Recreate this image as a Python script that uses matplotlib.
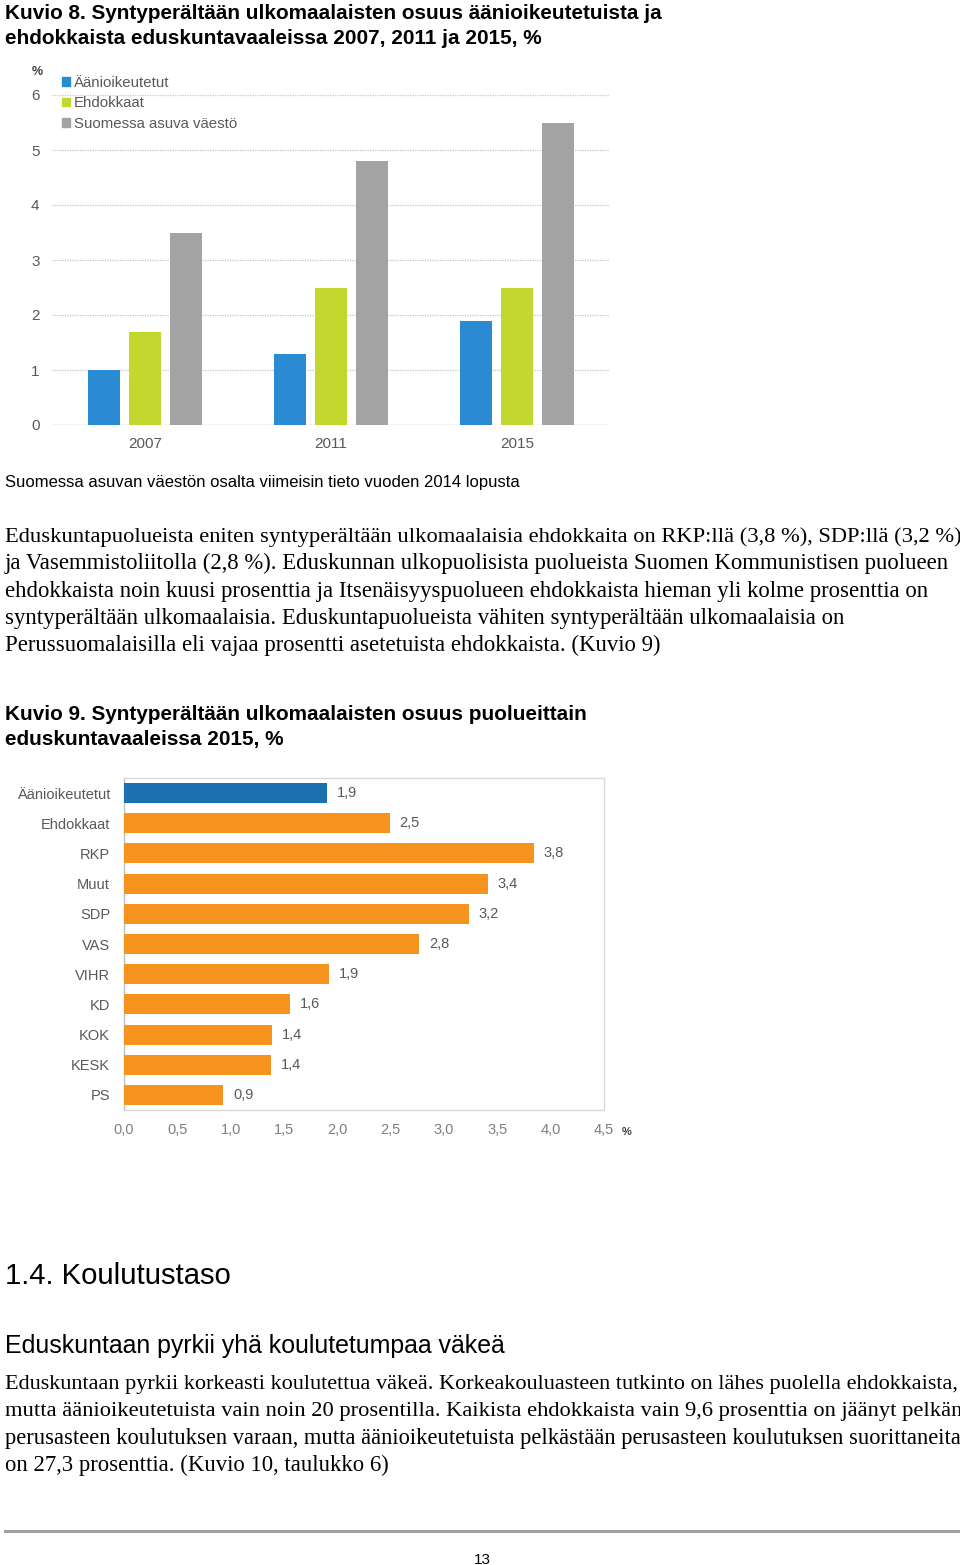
import matplotlib
matplotlib.use('Agg')
import matplotlib.pyplot as plt
from matplotlib.patches import Patch
import numpy as np

# ---------------- data ----------------
years = ['2007', '2011', '2015']
aanioikeutetut = [1.0, 1.3, 1.9]
ehdokkaat = [1.7, 2.5, 2.5]
vaesto = [3.5, 4.8, 5.5]
series_names = ['Äänioikeutetut', 'Ehdokkaat', 'Suomessa asuva väestö']
y1_ticks = [0, 1, 2, 3, 4, 5, 6]

parties = ['Äänioikeutetut', 'Ehdokkaat', 'RKP', 'Muut', 'SDP', 'VAS',
           'VIHR', 'KD', 'KOK', 'KESK', 'PS']
party_values = [1.9, 2.49, 3.84, 3.41, 3.23, 2.77, 1.92, 1.56, 1.39, 1.38, 0.93]
x2_ticks = [0.0, 0.5, 1.0, 1.5, 2.0, 2.5, 3.0, 3.5, 4.0, 4.5]

title8 = ['Kuvio 8. Syntyperältään ulkomaalaisten osuus äänioikeutetuista ja',
          'ehdokkaista eduskuntavaaleissa 2007, 2011 ja 2015, %']
note8 = 'Suomessa asuvan väestön osalta viimeisin tieto vuoden 2014 lopusta'
para1 = ['Eduskuntapuolueista eniten syntyperältään ulkomaalaisia ehdokkaita on RKP:llä (3,8 %), SDP:llä (3,2 %)',
         'ja Vasemmistoliitolla (2,8 %). Eduskunnan ulkopuolisista puolueista Suomen Kommunistisen puolueen',
         'ehdokkaista noin kuusi prosenttia ja Itsenäisyyspuolueen ehdokkaista hieman yli kolme prosenttia on',
         'syntyperältään ulkomaalaisia. Eduskuntapuolueista vähiten syntyperältään ulkomaalaisia on',
         'Perussuomalaisilla eli vajaa prosentti asetetuista ehdokkaista. (Kuvio 9)']
para1_widths = [953, 945, 923, 840, 655]
title9 = ['Kuvio 9. Syntyperältään ulkomaalaisten osuus puolueittain',
          'eduskuntavaaleissa 2015, %']
heading = '1.4. Koulutustaso'
subheading = 'Eduskuntaan pyrkii yhä koulutetumpaa väkeä'
para2 = ['Eduskuntaan pyrkii korkeasti koulutettua väkeä. Korkeakouluasteen tutkinto on lähes puolella ehdokkaista,',
         'mutta äänioikeutetuista vain noin 20 prosentilla. Kaikista ehdokkaista vain 9,6 prosenttia on jäänyt pelkän',
         'perusasteen koulutuksen varaan, mutta äänioikeutetuista pelkästään perusasteen koulutuksen suorittaneita',
         'on 27,3 prosenttia. (Kuvio 10, taulukko 6)']
para2_widths = [953, 953, 953, 385]
page_no = '13'

# ---------------- setup ----------------
W, H = 960, 1565
SANS = 'Liberation Sans'
SERIF = 'Liberation Serif'
plt.rcParams['font.family'] = SANS
fig = plt.figure(figsize=(W / 100, H / 100), dpi=100)
fig.patch.set_facecolor('white')
renderer = fig.canvas.get_renderer()


def fx(x):
    return x / W


def fy(y):
    return 1 - y / H


def ax_at(x0, y0, x1, y1):
    return fig.add_axes([x0 / W, 1 - y1 / H, (x1 - x0) / W, (y1 - y0) / H])


def fit_size(s, target_w, **kw):
    t = fig.text(0, 0, s, fontsize=20, **kw)
    w = t.get_window_extent(renderer=renderer).width
    t.remove()
    return 20 * target_w / w


def put(x, y, s, size, **kw):
    return fig.text(fx(x), fy(y), s, fontsize=size, va='baseline', **kw)


# ---------------- texts ----------------
ts = fit_size(title8[0], 655, fontweight='bold', family=SANS)
put(5, 19, title8[0], ts, fontweight='bold', family=SANS)
put(5, 44, title8[1], ts, fontweight='bold', family=SANS)

ns = fit_size(note8, 511, family=SANS)
put(5, 487, note8, ns, family=SANS)

ps = fit_size(para1[4], 655, family=SERIF)
for i, (line, w) in enumerate(zip(para1, para1_widths)):
    put(5, 542 + i * 27.3, line, min(ps, fit_size(line, w, family=SERIF)), family=SERIF)

put(5, 720, title9[0], ts, fontweight='bold', family=SANS)
put(5, 745, title9[1], ts, fontweight='bold', family=SANS)

hs = fit_size(heading, 225, family=SANS)
put(5, 1284, heading, hs, family=SANS)
ss = fit_size(subheading, 501, family=SANS)
put(5, 1353, subheading, ss, family=SANS)

for i, (line, w) in enumerate(zip(para2, para2_widths)):
    put(5, 1389 + i * 27.3, line, min(ps, fit_size(line, w, family=SERIF)), family=SERIF)

fig.add_artist(plt.Line2D([fx(5), fx(958)], [fy(1531), fy(1531)],
                          transform=fig.transFigure, color='#a0a0a0', lw=2.2))
put(482, 1564, page_no, 11, ha='center', family=SANS)

# ---------------- chart 1 ----------------
c_blue1, c_green, c_gray = '#2a8bd3', '#c3d82e', '#a3a3a3'
ax1 = ax_at(52, 95, 610, 425)
x = np.arange(len(years))
off = 0.222
bw = 0.173
ax1.bar(x - off, aanioikeutetut, bw, color=c_blue1, label=series_names[0], zorder=3)
ax1.bar(x, ehdokkaat, bw, color=c_green, label=series_names[1], zorder=3)
ax1.bar(x + off, vaesto, bw, color=c_gray, label=series_names[2], zorder=3)
ax1.set_xlim(-0.5, 2.5)
ax1.set_ylim(0, 6)
ax1.set_yticks(y1_ticks)
ax1.set_yticklabels([str(v) for v in y1_ticks])
ax1.set_xticks(x)
ax1.set_xticklabels(years)
for sp in ax1.spines.values():
    sp.set_visible(False)
ax1.tick_params(length=0, labelsize=11, labelcolor='#595959')
ax1.tick_params(axis='y', pad=9)
ax1.tick_params(axis='x', pad=8.5)
for v in y1_ticks[1:]:
    ax1.axhline(v, color='#c4c4c4', lw=0.9, ls=(0, (1, 1)), zorder=1)
ax1.axhline(0, color='#c8c8c8', lw=1.0, zorder=2)
for lab in ax1.get_yticklabels() + ax1.get_xticklabels():
    lab.set_family(SANS)
leg = ax1.legend(handles=[Patch(color=c_blue1), Patch(color=c_green), Patch(color=c_gray)],
                 labels=series_names, loc='upper left',
                 bbox_to_anchor=(fx(62), fy(76)), bbox_transform=fig.transFigure,
                 frameon=False, fontsize=10.8, handlelength=0.5, handleheight=0.5,
                 handletextpad=0.3, labelspacing=0.42, borderpad=0, borderaxespad=0)
for t in leg.get_texts():
    t.set_color('#595959')
put(32, 75, '%', 9, fontweight='bold', color='#404040', family=SANS)

# ---------------- chart 2 ----------------
c_blue2, c_orange = '#1a70b0', '#f6921e'
ax2 = ax_at(124, 778, 604, 1110)
yy = np.arange(len(parties))
colors = [c_blue2] + [c_orange] * (len(parties) - 1)
bars = ax2.barh(yy, party_values, height=0.66, color=colors, zorder=3)
ax2.set_xlim(0, 4.5)
ax2.set_ylim(len(parties) - 0.5, -0.5)
ax2.set_yticks(yy)
ax2.set_yticklabels(parties)
ax2.set_xticks(x2_ticks)
ax2.set_xticklabels([f'{v:.1f}'.replace('.', ',') for v in x2_ticks])
ax2.tick_params(length=0, labelsize=10.5, labelcolor='#595959')
ax2.tick_params(axis='y', pad=10)
ax2.tick_params(axis='x', pad=9, labelcolor='#7f7f7f')
for name, sp in ax2.spines.items():
    sp.set_color('#d9d9d9')
    sp.set_linewidth(1.0)
ax2.spines['left'].set_color('#c0c0c0')
labels = [f'{v:.1f}'.replace('.', ',') for v in party_values]
ax2.bar_label(bars, labels=labels, padding=7, fontsize=10.5, color='#595959')
put(622, 1135, '%', 8, fontweight='bold', color='#404040', family=SANS)

fig.savefig('out.png', dpi=100, facecolor='white')
